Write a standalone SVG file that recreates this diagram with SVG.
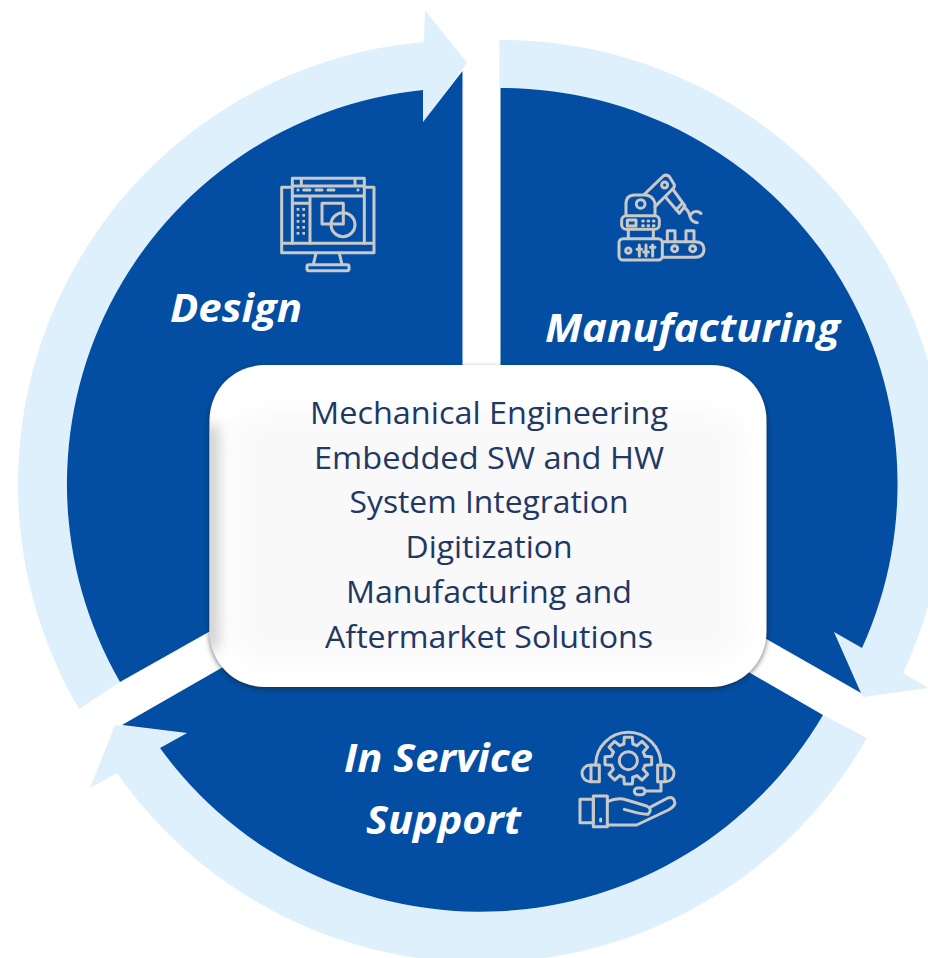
<svg xmlns="http://www.w3.org/2000/svg" width="928" height="958" viewBox="0 0 928 958">
<style>
.dark{fill:#034ea2}
.light{fill:#def0fb}
.ic{fill:none;stroke:#c9c9c9;stroke-width:9;stroke-linejoin:round;stroke-linecap:round}
.lab{font-family:"Open Sans","Liberation Sans",sans-serif;font-weight:700;font-style:italic;fill:#fff;font-size:39px}
.body{font-family:"Open Sans","Liberation Sans",sans-serif;fill:#1f3864;font-size:31px;text-anchor:middle}
</style>
<defs>
<filter id="blur" x="-10%" y="-10%" width="120%" height="120%"><feGaussianBlur stdDeviation="10"/></filter>
<filter id="blurS" x="-200%" y="-10%" width="500%" height="120%"><feGaussianBlur stdDeviation="7"/></filter>
<filter id="shadow" x="-5%" y="-5%" width="110%" height="110%"><feGaussianBlur stdDeviation="2.5"/></filter>
<clipPath id="boxclip"><rect x="209.5" y="365" width="557" height="322" rx="55"/></clipPath>
<path id="tooth" d="M-13.5,-50 L-12,-70 H12 L13.5,-50 L25.8,-44.9"/>
</defs>
<rect width="928" height="958" fill="#fff"/>
<g id="connectors">
<path id="ring-design" class="light" d="M79,709 A444,444 0 0 1 424,42 L425,10 L467,63 L423,122 L423,90 A396,396 0 0 0 120,682 Z"/>
<path id="ring-manufacturing" class="light" d="M499.5,40 A444,444 0 0 1 903,673 L928,688 L863,697 L834,632 L862,648 A396,396 0 0 0 499.5,88 Z"/>
<path id="ring-support" class="light" d="M823,715 L867,738 A444,444 0 0 1 117,773 L90,788 L115,725 L187,733 L160,748 A396,396 0 0 0 823,715 Z"/>
</g>
<g id="design">
<path class="dark" d="M462.5,400 V71 L423,122 V90 A396,396 0 0 0 120,682 L230,620 Z"/>
<g transform="translate(260,160) scale(.3333)" class="ic">
<path d="M97,82 H65 V278 H342 V82 H313 M65,250 H342"/>
<path d="M97,250 V55 H313 V250 M97,78 H313 M97,108 H313 M124,55 V78 M285,55 V78 M150,108 V250 M97,130 H150"/>
<path d="M131,90 H150 M168,90 H186 M204,90 H222"/>
<rect x="186" y="130" width="64" height="62"/>
<circle cx="249" cy="194" r="36"/>
<path d="M168,280 L160,313 M238,280 L246,313"/>
<rect x="141" y="314" width="126" height="18" rx="5"/>
<g style="stroke:none;fill:#c9c9c9"><rect x="110" y="86" width="8" height="8"/><rect x="290" y="86" width="8" height="8"/>
<rect x="110" y="144" width="8" height="8"/><rect x="127" y="144" width="8" height="8"/><rect x="110" y="162" width="8" height="8"/><rect x="127" y="162" width="8" height="8"/><rect x="110" y="180" width="8" height="8"/><rect x="127" y="180" width="8" height="8"/><rect x="110" y="198" width="8" height="8"/><rect x="127" y="198" width="8" height="8"/><rect x="110" y="216" width="8" height="8"/><rect x="127" y="216" width="8" height="8"/></g>
</g>
<text class="lab" x="170" y="322" textLength="132" lengthAdjust="spacingAndGlyphs">Design</text>
</g>
<g id="manufacturing">
<path class="dark" d="M500.5,400 V88 A396,396 0 0 1 862,648 L834,632 L861,693 L740,624 Z"/>
<g transform="translate(600,160) scale(.3333)" class="ic">
<path d="M78,165 V132 Q78,105 105,105 H133 Q158,105 165,130 V165"/>
<circle cx="122" cy="132" r="13"/>
<rect x="65" y="167" width="113" height="41" rx="14"/>
<rect x="82" y="180" width="26" height="18"/>
<path d="M128,183 H130 M144,183 H146 M160,183 H162 M128,197 H130 M144,197 H146 M160,197 H162"/>
<path d="M85,210 V235 M160,210 V235"/>
<rect x="57" y="236" width="130" height="64" rx="12"/>
<circle cx="85" cy="272" r="8"/>
<path d="M118,255 V288 M138,255 V288 M158,255 V288 M111,268 H125 M131,276 H145 M151,262 H165"/>
<path d="M187,245 H285 Q312,245 312,268 Q312,292 285,292 H187"/>
<circle cx="224" cy="266" r="9"/><circle cx="278" cy="266" r="9"/>
<path d="M202,245 V212 H225 V245 M258,245 V212 H282 V245"/>
<path d="M133,103 L190,48 Q200,42 208,50 L222,72 Q226,80 218,87 L165,140"/>
<circle cx="194" cy="75" r="9"/>
<path d="M218,87 L255,138 L238,160 L197,112 M228,150 L248,128"/>
<path d="M252,142 Q266,150 270,170 Q274,186 292,188 M303,160 A20,20 0 0 0 270,168"/>
</g>
<text class="lab" x="545" y="342" textLength="295" lengthAdjust="spacingAndGlyphs">Manufacturing</text>
</g>
<g id="support">
<path class="dark" d="M740,667 L823,715 A396,396 0 0 1 160,748 L187,733 L122,725 L230,663 Z"/>
<g transform="translate(565,720) scale(.3333)" class="ic">
<path d="M92,135 A98,98 0 0 1 288,135"/>
<g transform="translate(190,122)"><use href="#tooth"/><use href="#tooth" transform="rotate(45)"/><use href="#tooth" transform="rotate(90)"/><use href="#tooth" transform="rotate(135)"/><use href="#tooth" transform="rotate(180)"/><use href="#tooth" transform="rotate(225)"/><use href="#tooth" transform="rotate(270)"/><use href="#tooth" transform="rotate(315)"/><circle r="27"/></g>
<path d="M103,135 V185 H76 A25,25 0 0 1 76,135 Z M78,135 V185"/>
<path d="M278,135 V185 H302 A25,25 0 0 0 302,135 Z M300,135 V185"/>
<path d="M288,187 V213 H240"/>
<rect x="208" y="204" width="32" height="20" rx="10"/>
<rect x="45" y="238" width="40" height="70"/>
<rect x="85" y="228" width="42" height="92"/>
<path d="M107,297 V303"/>
<path d="M127,245 Q160,230 185,240 L245,258 Q264,268 250,282 Q240,286 178,268"/>
<path d="M255,262 L308,234 Q328,228 330,250 Q326,262 310,270 L215,315 H127"/>
</g>
<text class="lab" x="344" y="772" textLength="189" lengthAdjust="spacingAndGlyphs">In Service</text>
<text class="lab" x="366" y="834" textLength="155" lengthAdjust="spacingAndGlyphs">Support</text>
</g>
<g id="center">
<rect x="209" y="367" width="558" height="322" rx="56" fill="#1a1a1a" opacity=".55" filter="url(#shadow)"/>
<rect x="209.5" y="365" width="557" height="322" rx="55" fill="#fff"/>
<g clip-path="url(#boxclip)">
<rect x="232" y="412" width="512" height="250" rx="30" fill="#f9f9fa" filter="url(#blur)"/>
<rect x="204" y="425" width="14" height="225" fill="#c8c8c8" filter="url(#blurS)"/>
</g>
<text class="body" x="489" y="424" textLength="358" lengthAdjust="spacingAndGlyphs">Mechanical Engineering</text>
<text class="body" x="489" y="469" textLength="350" lengthAdjust="spacingAndGlyphs">Embedded SW and HW</text>
<text class="body" x="489" y="513" textLength="279" lengthAdjust="spacingAndGlyphs">System Integration</text>
<text class="body" x="489" y="558" textLength="167" lengthAdjust="spacingAndGlyphs">Digitization</text>
<text class="body" x="489" y="603" textLength="286" lengthAdjust="spacingAndGlyphs">Manufacturing and</text>
<text class="body" x="489" y="648" textLength="328" lengthAdjust="spacingAndGlyphs">Aftermarket Solutions</text>
</g>
</svg>
